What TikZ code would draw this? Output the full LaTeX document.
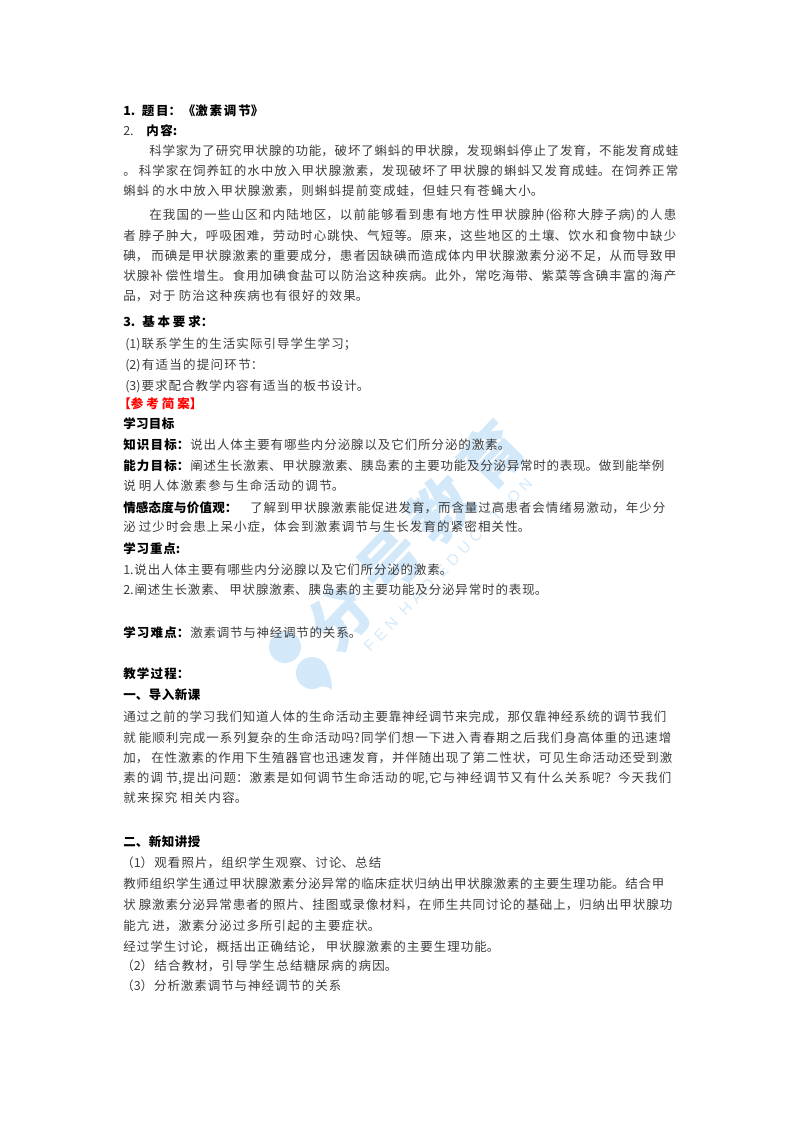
\documentclass[tikz,border=0pt]{standalone}
\usepackage{fontspec}
\setmainfont{Noto Sans CJK SC}
\newfontfamily\markfont[LetterSpace=33]{Liberation Sans}
\usetikzlibrary{positioning}

\XeTeXlinebreaklocale "zh"
\XeTeXlinebreakskip=0pt plus 4pt minus 0.5pt
\tolerance=10000
\hbadness=10000
\hfuzz=20pt
\newdimen\pxlen
\pxlen=0.744pt
\definecolor{markblue}{HTML}{D3E9FA}
\definecolor{bodygray}{HTML}{3C3C3C}

\tikzset{
	plainline/.style={anchor=base west, inner sep=0pt, text width=#1\pxlen, align=justify, execute at begin node={\parfillskip=0pt\relax}, font=\fontsize{9.3pt}{13pt}\selectfont, text=bodygray},
	headline/.style={plainline=#1, text=black, font=\fontsize{9.3pt}{13pt}\selectfont\bfseries},
	markword/.style={inner sep=0pt, rotate=46, text=markblue, font=\fontsize{46pt}{46pt}\selectfont\bfseries}
}

\begin{document}
\begin{tikzpicture}[x=0.744pt, y=-0.744pt]
	\useasboundingbox (0,0) rectangle (800,1132);

	% watermark
	\node[markword] (m1) at (340,617) {分};
	\node[markword] (m2) at (391,563) {号};
	\node[markword] (m3) at (441,509) {教};
	\node[markword] (m4) at (492,455) {育};
	\node[inner sep=0pt, rotate=46, text=markblue, font=\fontsize{11.5pt}{12pt}\markfont] (m5) at (448,565) {FEN HAO EDUCATION};
	\fill[markblue] (285,647) circle (16);
	\fill[markblue] (312,673) circle (16) (322,661) .. controls (330,670) and (332,680) .. (332,690) .. controls (326,684) and (318,688) .. (305,687) -- cycle;

	% task
	\node[headline=140] (t1) at (123,115) {1.\ \ 题目：《激素调节》};
	\node[plainline=14] (t2) at (123,135) {2.};
	\node[headline=31] (t3) at (146,135) {内容:};

	\node[plainline=529] (a1) at (149,155) {科学家为了研究甲状腺的功能，破坏了蝌蚪的甲状腺，发现蝌蚪停止了发育，不能发育成蛙};
	\node[plainline=555] (a2) at (123,175) {。 科学家在饲养缸的水中放入甲状腺激素，发现破坏了甲状腺的蝌蚪又发育成蛙。在饲养正常};
	\node[plainline=420] (a3) at (123,195) {蝌蚪 的水中放入甲状腺激素，则蝌蚪提前变成蛙，但蛙只有苍蝇大小。};

	\node[plainline=527] (b1) at (149,219) {在我国的一些山区和内陆地区，以前能够看到患有地方性甲状腺肿(俗称大脖子病)的人患};
	\node[plainline=553] (b2) at (123,240) {者 脖子肿大，呼吸困难，劳动时心跳快、气短等。原来，这些地区的土壤、饮水和食物中缺少};
	\node[plainline=553] (b3) at (123,260) {碘， 而碘是甲状腺激素的重要成分，患者因缺碘而造成体内甲状腺激素分泌不足，从而导致甲};
	\node[plainline=553] (b4) at (123,280) {状腺补 偿性增生。食用加碘食盐可以防治这种疾病。此外，常吃海带、紫菜等含碘丰富的海产};
	\node[plainline=245] (b5) at (123,300) {品，对于 防治这种疾病也有很好的效果。};

	% requirements
	\node[headline=90] (r0) at (123,326) {3.\ \ 基本要求：};
	\node[plainline=231] (r1) at (125,348) {(1)联系学生的生活实际引导学生学习；};
	\node[plainline=138] (r2) at (125,369) {(2)有适当的提问环节：};
	\node[plainline=244] (r3) at (125,390) {(3)要求配合教学内容有适当的板书设计。};
	\node[headline=84, text=red] (r4) at (118,408) {【参考简案】};

	% aims
	\node[headline=51] (g0) at (123,428) {学习目标};
	\node[headline=66] (g1) at (123,449) {知识目标：};
	\node[plainline=320] (g1a) at (190,449) {说出人体主要有哪些内分泌腺以及它们所分泌的激素。};
	\node[headline=66] (g2) at (123,470) {能力目标：};
	\node[plainline=474] (g2a) at (190,470) {阐述生长激素、甲状腺激素、胰岛素的主要功能及分泌异常时的表现。做到能举例};
	\node[plainline=221] (g3) at (123,490) {说 明人体激素参与生命活动的调节。};
	\node[headline=114] (g4) at (123,512) {情感态度与价值观：};
	\node[plainline=415] (g4a) at (250,512) {了解到甲状腺激素能促进发育，而含量过高患者会情绪易激动，年少分};
	\node[plainline=407] (g5) at (123,531) {泌 过少时会患上呆小症，体会到激素调节与生长发育的紧密相关性。};
	\node[headline=57] (k0) at (123,553) {学习重点:};
	\node[plainline=329] (k1) at (123,574) {1.说出人体主要有哪些内分泌腺以及它们所分泌的激素。};
	\node[plainline=424] (k2) at (123,594) {2.阐述生长激素、 甲状腺激素、胰岛素的主要功能及分泌异常时的表现。};
	\node[headline=66] (d0) at (123,637) {学习难点：};
	\node[plainline=171] (d0a) at (190,637) {激素调节与神经调节的关系。};

	% process
	\node[headline=66] (c0) at (123,678) {教学过程：};
	\node[headline=77] (c1) at (123,699) {一、导入新课};
	\node[plainline=543] (c2) at (123,721) {通过之前的学习我们知道人体的生命活动主要靠神经调节来完成，那仅靠神经系统的调节我们};
	\node[plainline=548] (c3) at (123,742) {就 能顺利完成一系列复杂的生命活动吗?同学们想一下进入青春期之后我们身高体重的迅速增};
	\node[plainline=549] (c4) at (123,762) {加， 在性激素的作用下生殖器官也迅速发育，并伴随出现了第二性状，可见生命活动还受到激};
	\node[plainline=548] (c5) at (123,782) {素的调 节,提出问题：激素是如何调节生命活动的呢,它与神经调节又有什么关系呢？今天我们};
	\node[plainline=124] (c6) at (123,802) {就来探究 相关内容。};

	\node[headline=77] (n0) at (123,846) {二、新知讲授};
	\node[plainline=260] (n1) at (121,867) {（1）观看照片，组织学生观察、讨论、总结};
	\node[plainline=541] (n2) at (123,888) {教师组织学生通过甲状腺激素分泌异常的临床症状归纳出甲状腺激素的主要生理功能。结合甲};
	\node[plainline=549] (n3) at (123,909) {状 腺激素分泌异常患者的照片、挂图或录像材料，在师生共同讨论的基础上，归纳出甲状腺功};
	\node[plainline=257] (n4) at (123,930) {能亢 进，激素分泌过多所引起的主要症状。};
	\node[plainline=376] (n5) at (123,951) {经过学生讨论，概括出正确结论， 甲状腺激素的主要生理功能。};
	\node[plainline=276] (n6) at (121,970) {（2）结合教材，引导学生总结糖尿病的病因。};
	\node[plainline=220] (n7) at (121,990) {（3）分析激素调节与神经调节的关系};
\end{tikzpicture}
\end{document}
